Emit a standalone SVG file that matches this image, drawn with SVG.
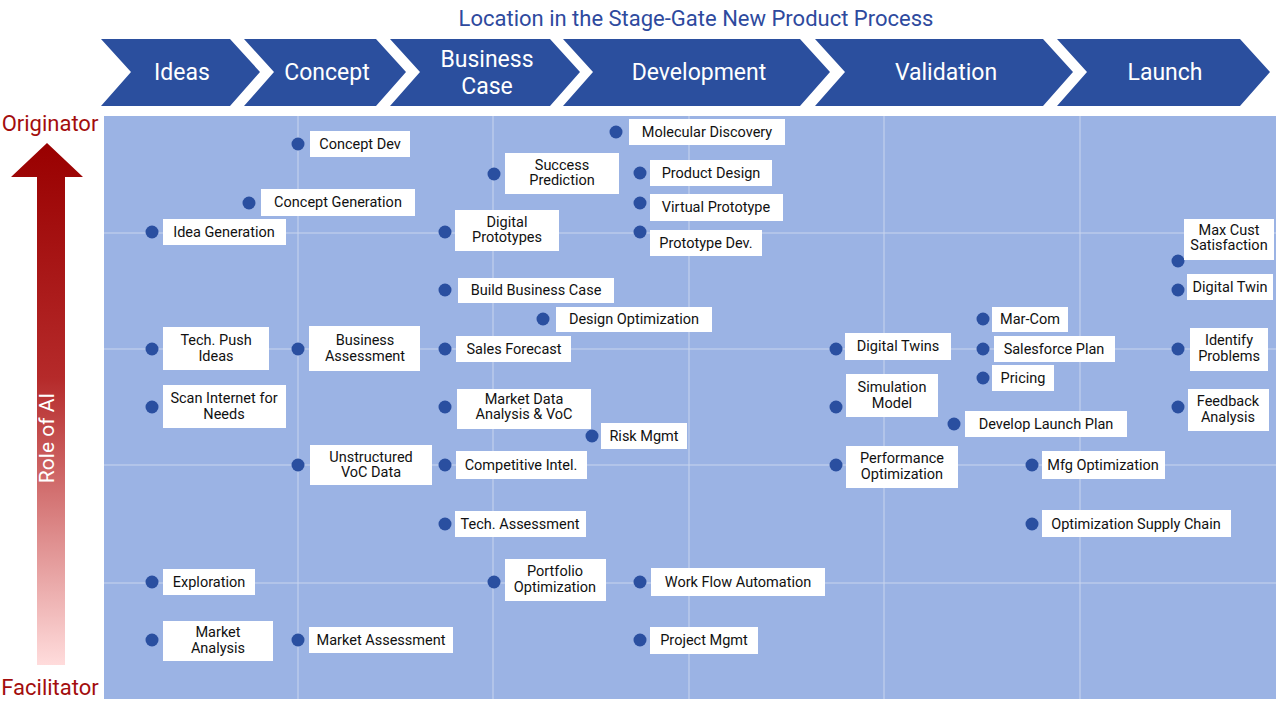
<svg xmlns="http://www.w3.org/2000/svg" width="1280" height="705" viewBox="0 0 1280 705">
<defs>
<linearGradient id="ag" x1="0" y1="0" x2="0" y2="1"><stop offset="0" stop-color="#990000"/><stop offset="0.45" stop-color="#b52a2a"/><stop offset="1" stop-color="#ffdcdc"/></linearGradient>
<style>
.ch{fill:#2b4f9e}
.cht{fill:#fff;font-family:Roboto,"Liberation Sans",sans-serif;font-size:23px;text-anchor:middle}
.b{fill:#fff}
.d{fill:#2a4fa0}
.t{font-family:Roboto,"Liberation Sans",sans-serif;font-size:14.5px;fill:#111;text-anchor:middle}
.g{stroke:#c9d5ee;stroke-width:1}
</style>
</defs>
<rect width="1280" height="705" fill="#fff"/>
<text x="696" y="26" font-family="Roboto,'Liberation Sans',sans-serif" font-size="22" fill="#2e4a9e" text-anchor="middle">Location in the Stage-Gate New Product Process</text>
<g id="stages">
<polygon class="ch" points="101,39 230,39 260,72 230,106 101,106 131,72"/>
<polygon class="ch" points="244,39 376,39 406,72 376,106 244,106 274,72"/>
<polygon class="ch" points="390,39 550,39 580,72 550,106 390,106 420,72"/>
<polygon class="ch" points="563,39 800,39 830,72 800,106 563,106 593,72"/>
<polygon class="ch" points="815,39 1043,39 1073,72 1043,106 815,106 845,72"/>
<polygon class="ch" points="1057,39 1240,39 1270,72 1240,106 1057,106 1087,72"/>
<text class="cht" x="182" y="80">Ideas</text>
<text class="cht" x="327" y="80">Concept</text>
<text class="cht" x="487" y="67">Business</text>
<text class="cht" x="487" y="94">Case</text>
<text class="cht" x="699" y="80">Development</text>
<text class="cht" x="946" y="80">Validation</text>
<text class="cht" x="1165" y="80">Launch</text>
</g>
<rect x="104" y="116" width="1172" height="583" fill="#9bb3e4"/>
<g id="grid">
<line class="g" x1="298" y1="116" x2="298" y2="699"/><line class="g" x1="493" y1="116" x2="493" y2="699"/><line class="g" x1="689" y1="116" x2="689" y2="699"/><line class="g" x1="884" y1="116" x2="884" y2="699"/><line class="g" x1="1080" y1="116" x2="1080" y2="699"/>
<line class="g" x1="104" y1="233" x2="1276" y2="233"/><line class="g" x1="104" y1="349" x2="1276" y2="349"/><line class="g" x1="104" y1="465" x2="1276" y2="465"/><line class="g" x1="104" y1="583" x2="1276" y2="583"/>
</g>
<g id="axis">
<polygon points="11,177 47,143 83,177 65,177 65,665 37,665 37,177" fill="url(#ag)"/>
<text x="50" y="131" font-family="Roboto,'Liberation Sans',sans-serif" font-size="22" fill="#a30d0d" text-anchor="middle">Originator</text>
<text x="50" y="695" font-family="Roboto,'Liberation Sans',sans-serif" font-size="22" fill="#a30d0d" text-anchor="middle">Facilitator</text>
<text x="0" y="0" transform="translate(54,438) rotate(-90)" font-family="Roboto,'Liberation Sans',sans-serif" font-size="21" fill="#fff" text-anchor="middle">Role of AI</text>
</g>
<g id="n1"><circle class="d" cx="298" cy="144" r="6.5"/><rect class="b" x="310" y="131" width="100" height="26"/><text class="t" x="360" y="149">Concept Dev</text></g>
<g id="n2"><circle class="d" cx="616" cy="132" r="6.5"/><rect class="b" x="629" y="119" width="156" height="26"/><text class="t" x="707" y="137">Molecular Discovery</text></g>
<g id="n3"><circle class="d" cx="494" cy="174" r="6.5"/><rect class="b" x="505" y="153" width="114" height="41"/><text class="t" x="562" y="170">Success</text><text class="t" x="562" y="185">Prediction</text></g>
<g id="n4"><circle class="d" cx="640" cy="173" r="6.5"/><rect class="b" x="650" y="160" width="122" height="26"/><text class="t" x="711" y="178">Product Design</text></g>
<g id="n5"><circle class="d" cx="249" cy="203" r="6.5"/><rect class="b" x="261" y="189" width="154" height="27"/><text class="t" x="338" y="207">Concept Generation</text></g>
<g id="n6"><circle class="d" cx="640" cy="203" r="6.5"/><rect class="b" x="650" y="194" width="133" height="27"/><text class="t" x="716" y="212">Virtual Prototype</text></g>
<g id="n7"><circle class="d" cx="152" cy="232" r="6.5"/><rect class="b" x="163" y="219" width="123" height="26"/><text class="t" x="224" y="237">Idea Generation</text></g>
<g id="n8"><circle class="d" cx="445" cy="232" r="6.5"/><rect class="b" x="455" y="210" width="104" height="41"/><text class="t" x="507" y="227">Digital</text><text class="t" x="507" y="242">Prototypes</text></g>
<g id="n9"><circle class="d" cx="640" cy="232" r="6.5"/><rect class="b" x="650" y="230" width="112" height="26"/><text class="t" x="706" y="248">Prototype Dev.</text></g>
<g id="n10"><circle class="d" cx="1178" cy="261" r="6.5"/><rect class="b" x="1184" y="219" width="90" height="41"/><text class="t" x="1229" y="235">Max Cust</text><text class="t" x="1229" y="250">Satisfaction</text></g>
<g id="n11"><circle class="d" cx="445" cy="290" r="6.5"/><rect class="b" x="458" y="278" width="156" height="25"/><text class="t" x="536" y="295">Build Business Case</text></g>
<g id="n12"><circle class="d" cx="1178" cy="290" r="6.5"/><rect class="b" x="1187" y="274" width="86" height="26"/><text class="t" x="1230" y="292">Digital Twin</text></g>
<g id="n13"><circle class="d" cx="543" cy="319" r="6.5"/><rect class="b" x="556" y="307" width="156" height="25"/><text class="t" x="634" y="324">Design Optimization</text></g>
<g id="n14"><circle class="d" cx="983" cy="319" r="6.5"/><rect class="b" x="992" y="307" width="76" height="25"/><text class="t" x="1030" y="324">Mar-Com</text></g>
<g id="n15"><circle class="d" cx="152" cy="349" r="6.5"/><rect class="b" x="163" y="327" width="106" height="43"/><text class="t" x="216" y="345">Tech. Push</text><text class="t" x="216" y="361">Ideas</text></g>
<g id="n16"><circle class="d" cx="298" cy="349" r="6.5"/><rect class="b" x="309" y="326" width="111" height="45"/><text class="t" x="365" y="345">Business</text><text class="t" x="365" y="361">Assessment</text></g>
<g id="n17"><circle class="d" cx="445" cy="349" r="6.5"/><rect class="b" x="456" y="336" width="115" height="26"/><text class="t" x="514" y="354">Sales Forecast</text></g>
<g id="n18"><circle class="d" cx="836" cy="349" r="6.5"/><rect class="b" x="845" y="333" width="106" height="27"/><text class="t" x="898" y="351">Digital Twins</text></g>
<g id="n19"><circle class="d" cx="983" cy="349" r="6.5"/><rect class="b" x="994" y="336" width="121" height="26"/><text class="t" x="1054" y="354">Salesforce Plan</text></g>
<g id="n20"><circle class="d" cx="1178" cy="349" r="6.5"/><rect class="b" x="1190" y="328" width="78" height="43"/><text class="t" x="1229" y="345">Identify</text><text class="t" x="1229" y="361">Problems</text></g>
<g id="n21"><circle class="d" cx="983" cy="378" r="6.5"/><rect class="b" x="992" y="365" width="62" height="26"/><text class="t" x="1023" y="383">Pricing</text></g>
<g id="n22"><circle class="d" cx="152" cy="407" r="6.5"/><rect class="b" x="163" y="385" width="123" height="43"/><text class="t" x="224" y="403">Scan Internet for</text><text class="t" x="224" y="419">Needs</text></g>
<g id="n23"><circle class="d" cx="836" cy="407" r="6.5"/><rect class="b" x="846" y="374" width="92" height="43"/><text class="t" x="892" y="392">Simulation</text><text class="t" x="892" y="408">Model</text></g>
<g id="n24"><circle class="d" cx="445" cy="407" r="6.5"/><rect class="b" x="457" y="389" width="134" height="40"/><text class="t" x="524" y="404">Market Data</text><text class="t" x="524" y="419">Analysis &amp; VoC</text></g>
<g id="n25"><circle class="d" cx="1178" cy="407" r="6.5"/><rect class="b" x="1188" y="389" width="81" height="42"/><text class="t" x="1228" y="406">Feedback</text><text class="t" x="1228" y="422">Analysis</text></g>
<g id="n26"><circle class="d" cx="954" cy="424" r="6.5"/><rect class="b" x="965" y="411" width="162" height="26"/><text class="t" x="1046" y="429">Develop Launch Plan</text></g>
<g id="n27"><circle class="d" cx="592" cy="436" r="6.5"/><rect class="b" x="601" y="423" width="86" height="26"/><text class="t" x="644" y="441">Risk Mgmt</text></g>
<g id="n28"><circle class="d" cx="298" cy="465" r="6.5"/><rect class="b" x="310" y="445" width="122" height="40"/><text class="t" x="371" y="462">Unstructured</text><text class="t" x="371" y="477">VoC Data</text></g>
<g id="n29"><circle class="d" cx="445" cy="465" r="6.5"/><rect class="b" x="456" y="451" width="131" height="28"/><text class="t" x="521" y="470">Competitive Intel.</text></g>
<g id="n30"><circle class="d" cx="836" cy="465" r="6.5"/><rect class="b" x="846" y="446" width="112" height="42"/><text class="t" x="902" y="463">Performance</text><text class="t" x="902" y="479">Optimization</text></g>
<g id="n31"><circle class="d" cx="1032" cy="465" r="6.5"/><rect class="b" x="1042" y="451" width="123" height="28"/><text class="t" x="1103" y="470">Mfg Optimization</text></g>
<g id="n32"><circle class="d" cx="445" cy="524" r="6.5"/><rect class="b" x="455" y="511" width="131" height="26"/><text class="t" x="520" y="529">Tech. Assessment</text></g>
<g id="n33"><circle class="d" cx="1032" cy="524" r="6.5"/><rect class="b" x="1042" y="510" width="189" height="27"/><text class="t" x="1136" y="529">Optimization Supply Chain</text></g>
<g id="n34"><circle class="d" cx="152" cy="582" r="6.5"/><rect class="b" x="163" y="569" width="92" height="26"/><text class="t" x="209" y="587">Exploration</text></g>
<g id="n35"><circle class="d" cx="494" cy="582" r="6.5"/><rect class="b" x="505" y="559" width="101" height="42"/><text class="t" x="555" y="576">Portfolio</text><text class="t" x="555" y="592">Optimization</text></g>
<g id="n36"><circle class="d" cx="640" cy="582" r="6.5"/><rect class="b" x="651" y="568" width="174" height="28"/><text class="t" x="738" y="587">Work Flow Automation</text></g>
<g id="n37"><circle class="d" cx="152" cy="640" r="6.5"/><rect class="b" x="163" y="621" width="110" height="40"/><text class="t" x="218" y="637">Market</text><text class="t" x="218" y="653">Analysis</text></g>
<g id="n38"><circle class="d" cx="298" cy="640" r="6.5"/><rect class="b" x="309" y="627" width="144" height="26"/><text class="t" x="381" y="645">Market Assessment</text></g>
<g id="n39"><circle class="d" cx="640" cy="640" r="6.5"/><rect class="b" x="650" y="627" width="108" height="27"/><text class="t" x="704" y="645">Project Mgmt</text></g>
<g id="connectors"/>
</svg>
